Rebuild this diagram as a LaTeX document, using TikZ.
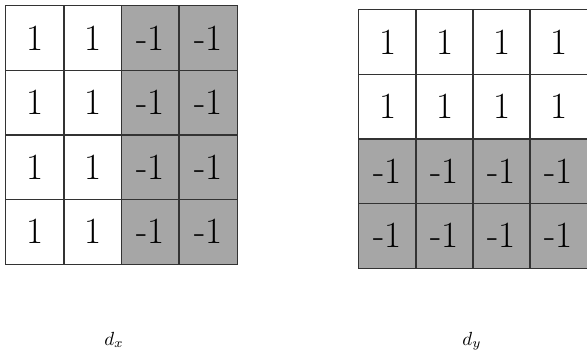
\documentclass[tikz,border=0pt]{standalone}
\usepackage{amsmath}
\usepackage{graphicx}
\usepackage{tikz}
\definecolor{cellgray}{RGB}{166,166,166}

\begin{document}
\begin{tikzpicture}[x=1pt,y=-1pt,
  cell/.style={rectangle,inner sep=0pt,minimum height=64.5pt,
    font=\fontsize{37}{37}\selectfont},
  neg/.style={cell,fill=cellgray},
  border/.style={draw=black!80,line width=1.3pt},
  lab/.style={anchor=base}]
  \useasboundingbox (0,0) rectangle (587,359);

  % d_x
  \foreach \r in {1,...,4}{
    \foreach \c in {1,2}
      \node[cell,minimum width=57.75pt] (x\r\c) at ({6+57.75*(\c-0.5)},{6+64.5*(\r-0.5)}) {1};
    \foreach \c in {3,4}
      \node[neg,minimum width=57.75pt] (x\r\c) at ({6+57.75*(\c-0.5)},{6+64.5*(\r-0.5)}) {-1};
  }

  % d_y
  \foreach \c in {1,...,4}{
    \foreach \r in {1,2}
      \node[cell,minimum width=57pt] (y\r\c) at ({359+57*(\c-0.5)},{10+64.5*(\r-0.5)}) {1};
    \foreach \r in {3,4}
      \node[neg,minimum width=57pt] (y\r\c) at ({359+57*(\c-0.5)},{10+64.5*(\r-0.5)}) {-1};
  }

  % cell borders on top of the fills
  \foreach \r in {1,...,4}
    \foreach \c in {1,...,4}{
      \draw[border] (x\r\c.north west) rectangle (x\r\c.south east);
      \draw[border] (y\r\c.north west) rectangle (y\r\c.south east);
    }

  \node[lab] (dx) at (114,345) {\scalebox{1.9}{$d_x$}};
  \node[lab] (dy) at (472,345) {\scalebox{1.9}{$d_y$}};
\end{tikzpicture}
\end{document}
